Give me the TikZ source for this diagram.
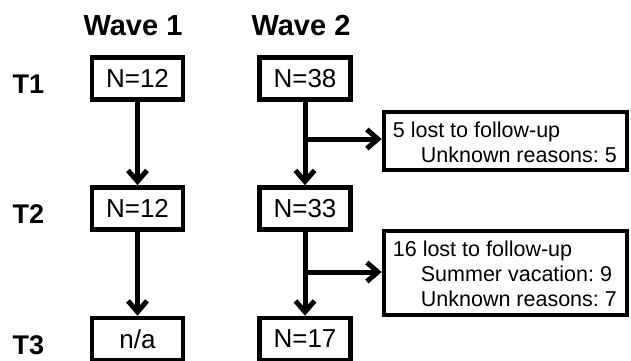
\documentclass[tikz,border=0pt]{standalone}
\usepackage{fontspec}
\setmainfont{Liberation Sans}
\usetikzlibrary{arrows.meta,shadows}
\begin{document}
\frenchspacing
\begin{tikzpicture}[x=1pt,y=-1pt,
  nbox/.style={draw, line width=4.6pt, minimum width=91pt, minimum height=42pt, inner sep=0pt,
    font=\fontsize{26}{30}\selectfont, fill=white,
    drop shadow={shadow xshift=1.5pt, shadow yshift=-1.5pt, opacity=0.18}},
  lbox/.style={draw, line width=4.6pt, minimum width=243pt, inner sep=0pt, fill=white,
    drop shadow={shadow xshift=1.5pt, shadow yshift=-1.5pt, opacity=0.18}},
  ltext/.style={anchor=west, align=left, inner sep=0pt,
    font=\fontsize{21.5}{25}\selectfont\frenchspacing},
  arr/.style={line width=5pt, -{Straight Barb[length=11pt,width=19pt]}},
  wave/.style={font=\fontsize{29}{34}\selectfont\bfseries, anchor=base},
  tlab/.style={font=\fontsize{27}{32}\selectfont\bfseries, anchor=base west}]
\useasboundingbox (0,0) rectangle (631,360);

\node[wave] (wv1) at (133,35) {Wave 1};
\node[wave] (wv2) at (301,35) {Wave 2};

\node[tlab] (t1) at (9,93) {T1};
\node[tlab] (t2) at (9,223) {T2};
\node[tlab] (t3) at (9,354) {T3};

\node[nbox] (a1) at (137.5,78.5) {N=12};
\node[nbox] (a2) at (137.5,208.5) {N=12};
\node[nbox] (a3) at (137.5,339) {n/a};

\node[nbox] (b1) at (305,78.5) {N=38};
\node[nbox] (b2) at (305,208.5) {N=33};
\node[nbox] (b3) at (305,339) {N=17};

\node[lbox, minimum height=58pt] (r1) at (505.5,141) {};
\node[ltext] (r1t) at ([xshift=11pt,yshift=-1pt]r1.west)
  {5 lost to follow-up\\\hspace*{28pt}Unknown reasons: 5};
\node[lbox, minimum height=84pt] (r2) at (505.5,273) {};
\node[ltext] (r2t) at ([xshift=11pt,yshift=-1pt]r2.west)
  {16 lost to follow-up\\\hspace*{28pt}Summer vacation: 9\\\hspace*{28pt}Unknown reasons: 7};

\draw[arr] (a1) -- (a2);
\draw[arr] (a2) -- (a3);
\draw[arr] (b1) -- (b2);
\draw[arr] (b2) -- (b3);

\coordinate (br1) at (305,139);
\coordinate (br2) at (305,272);
\draw[arr] (br1) -- (br1 -| r1.west);
\draw[arr] (br2) -- (br2 -| r2.west);
\end{tikzpicture}
\end{document}
